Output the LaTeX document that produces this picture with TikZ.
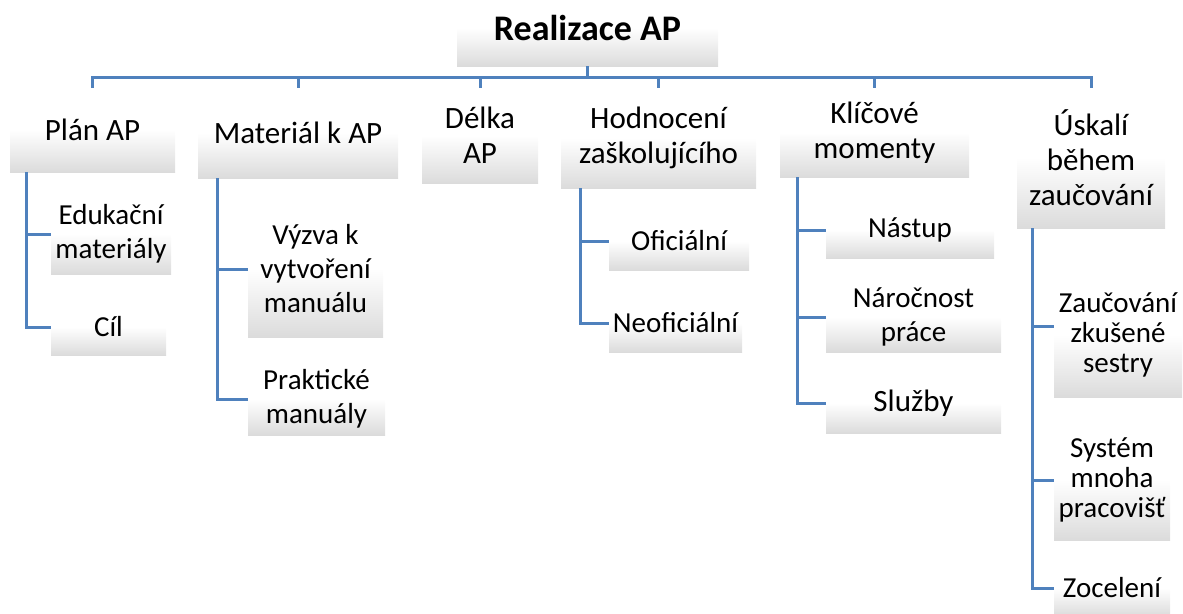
\documentclass[tikz,border=0pt]{standalone}
\usepackage{fontspec}
\setmainfont{Carlito}
\definecolor{linkblue}{HTML}{4F81BD}
\pgfdeclareverticalshading{boxfade}{100bp}{color(0bp)=(gray!28); color(25bp)=(gray!28); color(50bp)=(white); color(100bp)=(white)}
\tikzset{
  sz/.style 2 args={minimum width=#1pt,minimum height=#2pt},
  box/.style={shade,shading=boxfade,inner sep=0pt,align=center,font=\fontsize{29}{34}\selectfont},
  topbox/.style={box,font=\fontsize{31}{35}\selectfont},
  conn/.style={draw=linkblue,line width=3pt}
}
\begin{document}
\begin{tikzpicture}[x=1pt,y=-1pt]
	\useasboundingbox (0,0) rectangle (1183,613);
	\node[box,font=\bfseries\fontsize{36}{40}\selectfont,sz={261}{76}] (root) at (587.5,28) {Realizace AP};
	% first level
	\node[topbox,sz={165}{84}] (plan) at (92.5,130) {Plán AP};
	\node[topbox,sz={200}{90}] (mat) at (298,133) {Materiál k AP};
	\node[topbox,sz={116}{95}] (delka) at (480,135.5) {Délka\\AP};
	\node[topbox,sz={195}{100}] (hodn) at (658.5,138) {Hodnocení\\zaškolujícího};
	\node[topbox,sz={189}{89}] (klic) at (874.5,132.5) {Klíčové\\momenty};
	\node[topbox,sz={148}{140}] (uskali) at (1091,158) {Úskalí\\během\\zaučování};
	% second level
	\node[box,sz={120}{80}] (edu) at (111,234) {Edukační\\materiály};
	\node[box,sz={115}{56}] (cil) at (108.5,327) {Cíl};
	\node[box,sz={135}{136}] (vyzva) at (315.5,269) {Výzva k\\vytvoření\\manuálu};
	\node[box,sz={137}{72}] (prakt) at (316.5,399) {Praktické\\manuály};
	\node[box,sz={140}{58}] (ofic) at (679,241) {Oficiální};
	\node[box,sz={133}{58}] (neof) at (675.5,323) {Neoficiální};
	\node[box,sz={168}{56}] (nastup) at (910,230) {Nástup};
	\node[box,sz={175}{70}] (naroc) at (913.5,317) {Náročnost\\práce};
	\node[box,font=\fontsize{31}{35}\selectfont,sz={175}{60}] (sluzby) at (913.5,403) {Služby};
	\node[box,font=\fontsize{29}{30}\selectfont,sz={128}{124}] (zauc) at (1118,335) {Zaučování\\zkušené\\sestry};
	\node[box,font=\fontsize{29}{30}\selectfont,sz={116}{120}] (system) at (1112,480) {Systém\\mnoha\\pracovišť};
	\node[box,sz={116}{56}] (zocel) at (1112,588) {Zocelení};
	% connectors
	\coordinate (bus) at (587.5,77);
	\draw[conn] (root.south)--(bus);
	\foreach \x in {plan,mat,delka,hodn,klic,uskali}\draw[conn] (bus) -| (\x.north);
	\foreach \p/\c/\d in {plan/edu/17,plan/cil/17,mat/vyzva/20,mat/prakt/20,hodn/ofic/20,hodn/neof/20,klic/nastup/18,klic/naroc/18,klic/sluzby/18,uskali/system/16,uskali/zocel/16}
		\draw[conn] ([xshift=\d pt]\p.south west) |- (\c.west);
	\draw[conn] ([xshift=16pt]uskali.south west) |- ([yshift=9pt]zauc.west);
\end{tikzpicture}
\end{document}
